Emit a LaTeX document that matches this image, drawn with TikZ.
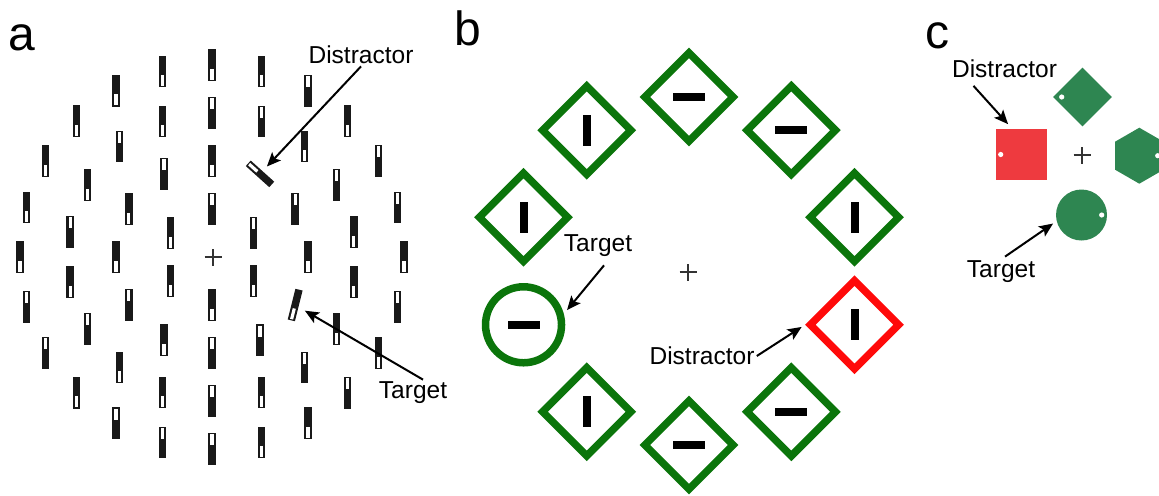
\documentclass[tikz,border=0pt]{standalone}
\usepackage{fontspec}
\setmainfont{Liberation Sans}
\usetikzlibrary{arrows.meta,positioning,shapes.geometric,calc}
\definecolor{boxgreen}{HTML}{0B750B}
\definecolor{boxred}{HTML}{FF0A0A}
\definecolor{shapegreen}{HTML}{2E8651}
\definecolor{shapered}{HTML}{EE3A3F}
\definecolor{crossgray}{HTML}{333333}
\tikzset{
  pics/stim/.style={code={
    \node[bar,transform shape] (-b) {};
    \fill[white] (-0.8pt,#1*7.3pt) rectangle (0.8pt,#1*1.8pt);
  }}
}

\begin{document}
\begin{tikzpicture}[x=0.5pt,y=0.5pt,
  bar/.style={rectangle,fill=black!90,inner sep=0pt,minimum width=3.7pt,minimum height=15.8pt},
  lbl/.style={font=\fontsize{12.25}{14}\selectfont,inner sep=1pt},
  panel/.style={font=\fontsize{24}{28}\selectfont,inner sep=0pt,anchor=base west},
  arr/.style={-{Stealth[length=7pt,width=6pt,inset=1.5pt]},line width=1pt},
  fix/.style={line width=1pt,crossgray},
  gdia/.style={diamond,draw=boxgreen,line width=3.75pt,minimum size=45.7pt,inner sep=0pt},
  hbar/.style={rectangle,fill=black,inner sep=0pt,minimum width=16pt,minimum height=4pt},
  vbar/.style={rectangle,fill=black,inner sep=0pt,minimum width=4pt,minimum height=15.5pt}
  ]
  \useasboundingbox (0,0) rectangle (1159,495);
  \node[panel] (pa) at (8,445) {a};
  \node[panel] (pb) at (454,450) {b};
  \node[panel] (pc) at (925,447) {c};

  \begin{scope}[shift={(212,238)}]
    \foreach \a/\wt in {0/-1,15/1,30/1,45/-1,60/1,75/-1,90/-1,105/-1,120/-1,135/-1,150/-1,165/-1,180/-1,195/1,210/1,225/-1,240/1,255/1,270/1,285/-1,300/-1,315/1,330/-1,345/1}
      \pic (o\a) at (\a:192) {stim=\wt};
    \foreach \a/\wt in {10/-1,30/1,50/-1,70/1,90/1,110/-1,130/1,150/-1,170/1,190/-1,210/1,230/-1,250/-1,270/1,290/-1,310/1,330/-1,350/-1}
      \pic (m\a) at (\a:144) {stim=\wt};
    \foreach \a/\wt in {0/-1,30/1,90/-1,120/1,150/-1,180/-1,210/1,240/-1,270/1,300/1}
      \pic (n\a) at (\a:96) {stim=\wt};
    \foreach \a/\wt in {30/1,90/1,150/-1,210/-1,270/-1,330/-1}
      \pic (i\a) at (\a:48) {stim=\wt};
    \pic[rotate=48] (dist) at (60:96) {stim=1};
    \pic[rotate=-14] (targ) at (-30:96) {stim=-1};
    \coordinate (fixA) at (1,0);
    \draw[fix] (fixA) ++(-8.5,0) -- ++(17,0) (fixA) ++(0,-8.5) -- ++(0,17);
  \end{scope}
  \node[lbl] (dlabA) at (361,440) {Distractor};
  \node[lbl] (tlabA) at (413,102) {Target};
  \draw[arr,shorten >=3pt] (dlabA.south) -- (dist-b);
  \draw[arr,shorten >=3.5pt] ([xshift=5pt]tlabA.north) -- (targ-b);

  \begin{scope}[shift={(689,224)}]
    \foreach \a/\o [count=\i] in {90/hbar,54/hbar,18/vbar,-54/hbar,-90/hbar,-126/vbar,162/vbar,126/vbar}{
      \node[gdia] (g\i) at (\a:174) {};
      \node[\o] (s\i) at (g\i) {};
    }
    \node[gdia,draw=boxred] (rdia) at (-18:174) {};
    \node[vbar] (rbar) at (rdia) {};
    \node[circle,draw=boxgreen,line width=3.75pt,minimum size=38pt,inner sep=0pt] (tcirc) at (-162:174) {};
    \node[hbar] (tbar) at (tcirc) {};
    \coordinate (fixB) at (-1,-1);
    \draw[fix] (fixB) ++(-8.5,0) -- ++(17,0) (fixB) ++(0,-8.5) -- ++(0,17);
  \end{scope}
  \node[lbl] (tlabB) at (598,249) {Target};
  \node[lbl] (dlabB) at (702,139) {Distractor};
  \draw[arr,shorten >=2.5pt] ([xshift=3pt,yshift=-3pt]tlabB.south) -- (tcirc.15);
  \draw[arr,shorten >=2pt] (dlabB.east) -- (rdia.west);

  \node[fill=shapered,minimum size=25.5pt,inner sep=0pt] (rsq) at (1021.5,340.5) {};
  \node[diamond,fill=shapegreen,minimum size=29.5pt,inner sep=0pt] (gdmd) at (1082.5,398) {};
  \node[regular polygon,regular polygon sides=6,shape border rotate=30,fill=shapegreen,minimum size=28pt,inner sep=0pt] (ghex) at (1139.3,339.3) {};
  \node[circle,fill=shapegreen,minimum size=25.5pt,inner sep=0pt] (gcirc) at (1081.5,280) {};
  \foreach \n/\dx in {rsq/-20.8,gdmd/-20.8,ghex/18.4,gcirc/20.2}
    \fill[white] ($(\n.center)+(\dx,0)$) circle (1.3pt);
  \coordinate (fixC) at (1082,340);
  \draw[fix] (fixC) ++(-8.5,0) -- ++(17,0) (fixC) ++(0,-8.5) -- ++(0,17);
  \node[lbl] (dlabC) at (1004.5,426.5) {Distractor};
  \node[lbl] (tlabC) at (1001,223) {Target};
  \draw[arr,shorten >=3pt] ([xshift=-15.5pt,yshift=-3pt]dlabC.south) -- (rsq.110);
  \draw[arr,shorten >=2pt] ([xshift=2pt,yshift=1pt]tlabC.north) -- (gcirc.194);
\end{tikzpicture}
\end{document}
